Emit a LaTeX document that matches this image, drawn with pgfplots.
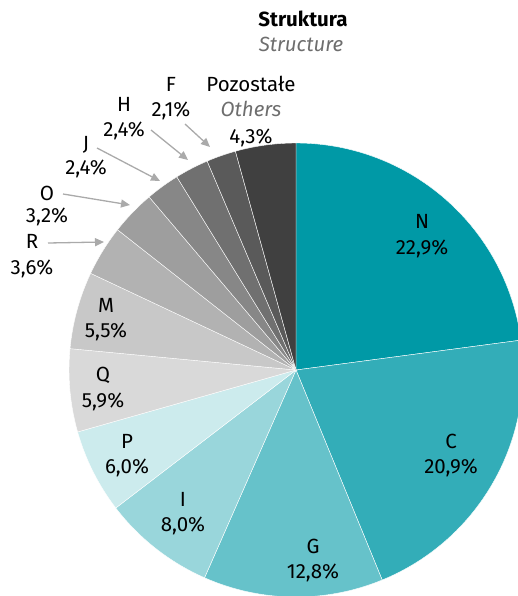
\documentclass[border=0pt]{standalone}
\usepackage{fontspec}
\setmainfont{Fira Sans}
\usepackage{pgfplots}
\pgfplotsset{compat=1.18}
\usetikzlibrary{arrows.meta}
\definecolor{cN}{RGB}{0,153,166}
\definecolor{cC}{RGB}{51,173,184}
\definecolor{cG}{RGB}{102,194,202}
\definecolor{cI}{RGB}{153,214,219}
\definecolor{cP}{RGB}{204,235,237}
\definecolor{cQ}{RGB}{217,217,217}
\definecolor{cM}{RGB}{200,200,200}
\definecolor{cR}{RGB}{178,178,178}
\definecolor{cO}{RGB}{158,158,158}
\definecolor{cJ}{RGB}{135,135,135}
\definecolor{cH}{RGB}{112,112,112}
\definecolor{cF}{RGB}{90,90,90}
\definecolor{cX}{RGB}{64,64,64}
\definecolor{subgray}{RGB}{110,110,110}
\definecolor{arrgray}{RGB}{170,170,170}
\newcommand\lbl{\fontsize{20.5}{24}\selectfont}
% start (cumulative %), value (%), colour
\newcommand\slice[3]{\fill[#3, draw=white, line width=0.4pt] (axis cs:296,370) -- ++({90-3.6*(#1)}:227pt) arc[start angle={90-3.6*(#1)}, delta angle={-3.6*(#2)}, radius=227pt] -- cycle;}
% x, baseline1, baseline2, line1, line2
\newcommand\lab[5]{\node[anchor=base, font=\lbl, inner sep=0pt] at (axis cs:#1,#2) {#4};\node[anchor=base, font=\lbl, inner sep=0pt] at (axis cs:#1,#3) {#5};}
\begin{document}
\begin{tikzpicture}
\begin{axis}[hide axis, scale only axis, width=518pt, height=596pt,
  xmin=0, xmax=518, ymin=0, ymax=596, y dir=reverse, clip=true]
\slice{0}{22.9}{cN}
\slice{22.9}{20.9}{cC}
\slice{43.8}{12.8}{cG}
\slice{56.6}{8.0}{cI}
\slice{64.6}{6.0}{cP}
\slice{70.6}{5.9}{cQ}
\slice{76.5}{5.5}{cM}
\slice{82.0}{3.6}{cR}
\slice{85.6}{3.2}{cO}
\slice{88.8}{2.4}{cJ}
\slice{91.2}{2.4}{cH}
\slice{93.6}{2.1}{cF}
\slice{95.7}{4.3}{cX}
% title
\node[anchor=base, font=\lbl\bfseries, inner sep=0pt] at (axis cs:303,27) {Struktura};
\node[anchor=base, font=\lbl\itshape, text=subgray, inner sep=0pt] at (axis cs:301,52) {Structure};
% inside labels
\lab{422}{228}{254}{N}{22,9\%}
\lab{451}{448}{473}{C}{20,9\%}
\lab{313}{553}{578}{G}{12,8\%}
\lab{183}{506}{531}{I}{8,0\%}
\lab{127}{448}{473}{P}{6,0\%}
\lab{103}{381}{407}{Q}{5,9\%}
\lab{106}{312}{337}{M}{5,5\%}
% outside labels
\lab{32}{248}{274}{R}{3,6\%}
\lab{47}{200}{222}{O}{3,2\%}
\lab{86}{151}{175}{J}{2,4\%}
\lab{124}{112}{137}{H}{2,4\%}
\lab{171}{92}{117}{F}{2,1\%}
\node[anchor=base, font=\lbl, inner sep=0pt] at (axis cs:251,92) {Pozostałe};
\node[anchor=base, font=\lbl\itshape, text=subgray, inner sep=0pt] at (axis cs:251,117) {Others};
\node[anchor=base, font=\lbl, inner sep=0pt] at (axis cs:251,143) {4,3\%};
% arrows
\draw[arrgray, line width=1.3pt, -{Triangle[length=9pt,width=8pt]}] (axis cs:48,243) -- (axis cs:104,242);
\draw[arrgray, line width=1.3pt, -{Triangle[length=9pt,width=8pt]}] (axis cs:63,194) -- (axis cs:130,205);
\draw[arrgray, line width=1.3pt, -{Triangle[length=9pt,width=8pt]}] (axis cs:97,148) -- (axis cs:160,181);
\draw[arrgray, line width=1.3pt, -{Triangle[length=9pt,width=8pt]}] (axis cs:151,130) -- (axis cs:188,160);
\draw[arrgray, line width=1.3pt, -{Triangle[length=9pt,width=8pt]}] (axis cs:185,124) -- (axis cs:210,147);
\end{axis}
\pgfresetboundingbox
\useasboundingbox (0,0) rectangle (518pt,596pt);
\end{tikzpicture}
\end{document}
